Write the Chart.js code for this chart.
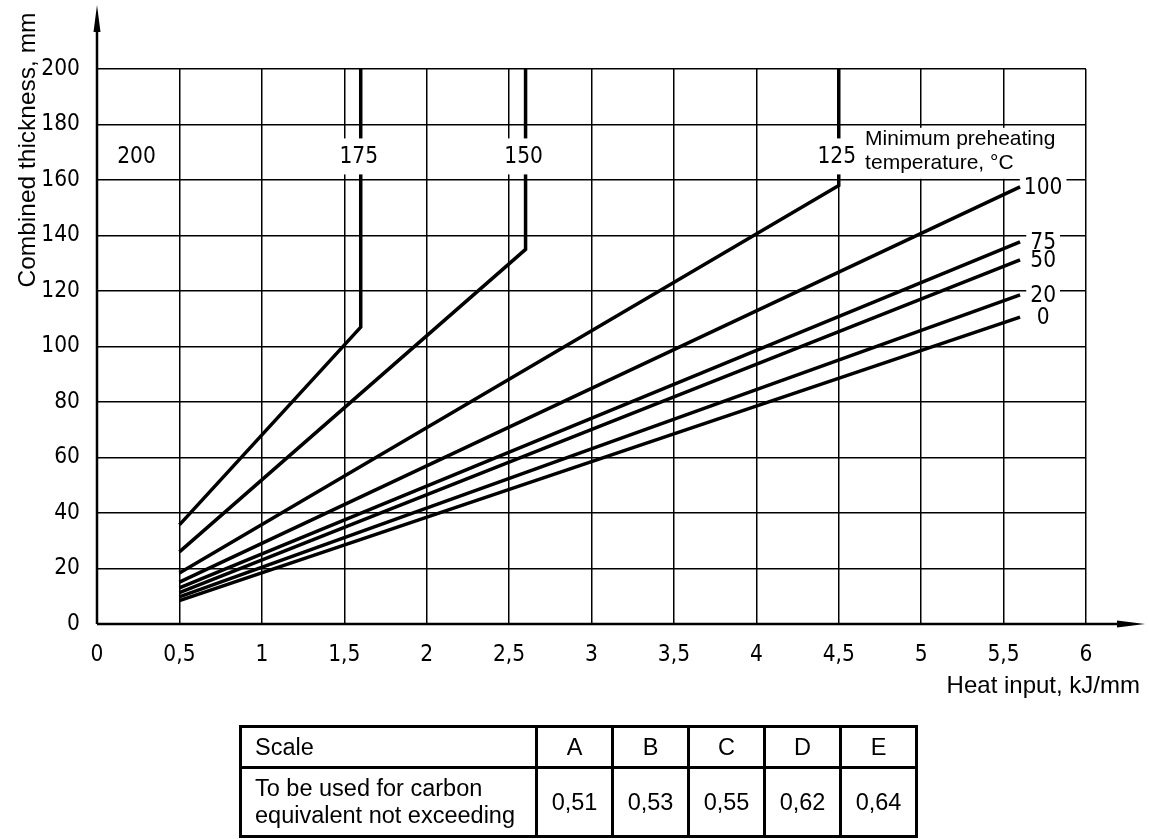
<!DOCTYPE html>
<html>
<head>
<meta charset="utf-8">
<script src="https://cdn.jsdelivr.net/npm/chart.js@4.4.0/dist/chart.umd.min.js"></script>
<style>
  html, body { margin: 0; padding: 0; background: #fff; }
  #wrap { position: relative; width: 1149px; height: 839px; overflow: hidden; }
  #chart { position: absolute; left: 0; top: 0; }
  #scaleTable {
    position: absolute; left: 239px; top: 725px;
    border-collapse: collapse; table-layout: fixed;
    font-family: "Liberation Sans", Arial, sans-serif; font-size: 23.5px; color: #000;
  }
  #scaleTable td { border: 3px solid #000; padding: 0; text-align: center; }
  #scaleTable td.first { text-align: left; padding-left: 13px; line-height: 27px; }
  #scaleTable tr.head td { height: 38px; }
  #scaleTable tr.body td { height: 66px; }
</style>
</head>
<body>
<div id="wrap">
  <canvas id="chart" width="1149" height="839"></canvas>
  <table id="scaleTable"></table>
</div>
<script>
// thickness curves, [heat input kJ/mm, combined thickness mm]
const curve0   = [[0.5, 8.4],  [5.6, 110.6]];
const curve20  = [[0.5, 9.8],  [5.6, 118.6]];
const curve50  = [[0.5, 11.3], [5.6, 131.2]];
const curve75  = [[0.5, 13.0], [5.6, 137.7]];
const curve100 = [[0.5, 15.1], [5.6, 157.5]];
const curve125 = [[0.5, 18.4], [4.5, 158.0], [4.5, 200]];
const curve150 = [[0.5, 26.0], [2.6, 135.0], [2.6, 200]];
const curve175 = [[0.5, 35.7], [1.6, 107.0], [1.6, 200]];

const tempNames = ['0', '20', '50', '75', '100', '125', '150', '175'];
const curves = [curve0, curve20, curve50, curve75, curve100, curve125, curve150, curve175];

// table under the chart
const scaleNames = ['A', 'B', 'C', 'D', 'E'];
const ceLimits = ['0,51', '0,53', '0,55', '0,62', '0,64'];

const tickFamily = '"DejaVu Sans Condensed", "Liberation Sans Narrow", "DejaVu Sans", sans-serif';
const tickSize = 22.5;
const textFamily = '"Liberation Sans", Arial, sans-serif';

// build the table
(function buildTable() {
  const t = document.getElementById('scaleTable');
  let html = '<colgroup><col style="width:296px">';
  scaleNames.forEach(() => html += '<col style="width:76px">');
  html += '</colgroup><tr class="head"><td class="first">Scale</td>';
  scaleNames.forEach(s => html += '<td>' + s + '</td>');
  html += '</tr><tr class="body"><td class="first">To be used for carbon<br>equivalent not exceeding</td>';
  ceLimits.forEach(v => html += '<td>' + v + '</td>');
  html += '</tr>';
  t.innerHTML = html;
})();

const endLabelX = 5.74;   // where the 0..100 names sit
const topLabelY = 168.5;  // row of the 125..200 names
const fmt = v => String(v).replace('.', ',');

function labelSpots(x, y) {
  const spots = [];
  // names at the right end of the sloped curves
  for (let i = 0; i < 5; i++) {
    const last = curves[i][curves[i].length - 1];
    spots.push({ text: tempNames[i], px: x.getPixelForValue(endLabelX), py: y.getPixelForValue(last[1]), padX: 4, h: 16 });
  }
  // names on the vertical parts
  for (let i = 5; i < 8; i++) {
    const last = curves[i][curves[i].length - 1];
    spots.push({ text: tempNames[i], px: x.getPixelForValue(last[0]) - 2, py: y.getPixelForValue(topLabelY), padX: 3, h: 36, cover: true });
  }
  spots.push({ text: '200', px: x.getPixelForValue(0.24), py: y.getPixelForValue(topLabelY), padX: 0, h: 0 });
  return spots;
}

const annotate = {
  id: 'annotate',
  beforeDatasetsDraw(chart) {
    const { ctx, scales: { x, y } } = chart;
    ctx.save();
    ctx.fillStyle = '#fff';
    ctx.font = tickSize + 'px ' + tickFamily;
    labelSpots(x, y).filter(s => !s.cover && s.h).forEach(s => {
      const w = ctx.measureText(s.text).width;
      ctx.fillRect(s.px - w / 2 - s.padX, s.py - s.h / 2, w + 2 * s.padX, s.h);
    });
    // box behind the note
    const nx = x.getPixelForValue(4.66);
    ctx.fillRect(nx - 14, y.getPixelForValue(178.8), 225, 51);
    ctx.restore();
  },
  afterDatasetsDraw(chart) {
    const { ctx, scales: { x, y }, chartArea: a } = chart;
    ctx.save();
    // axes with arrows
    ctx.strokeStyle = '#000';
    ctx.fillStyle = '#000';
    ctx.lineWidth = 2.5;
    ctx.beginPath();
    ctx.moveTo(a.left, a.bottom);
    ctx.lineTo(a.left, 22);
    ctx.moveTo(a.left, a.bottom);
    ctx.lineTo(1125, a.bottom);
    ctx.stroke();
    ctx.beginPath();
    ctx.moveTo(a.left, 5); ctx.lineTo(a.left - 3.5, 32); ctx.lineTo(a.left + 3.5, 32); ctx.closePath();
    ctx.moveTo(1145, a.bottom); ctx.lineTo(1117, a.bottom - 3.5); ctx.lineTo(1117, a.bottom + 3.5); ctx.closePath();
    ctx.fill();

    // temperature names
    ctx.font = tickSize + 'px ' + tickFamily;
    ctx.textAlign = 'center';
    ctx.textBaseline = 'middle';
    labelSpots(x, y).forEach(s => {
      if (s.cover) {
        const w = ctx.measureText(s.text).width;
        ctx.fillStyle = '#fff';
        ctx.fillRect(s.px - w / 2 - s.padX, s.py - s.h / 2, w + 2 * s.padX, s.h);
      }
      ctx.fillStyle = '#000';
      ctx.fillText(s.text, s.px, s.py + 1);
    });

    // note
    ctx.font = '21px ' + textFamily;
    ctx.textAlign = 'left';
    ctx.textBaseline = 'alphabetic';
    const nx = x.getPixelForValue(4.66);
    ctx.fillText('Minimum preheating', nx, y.getPixelForValue(172.6));
    ctx.fillText('temperature, \u00B0C', nx, y.getPixelForValue(164.0));

    // axis titles
    ctx.font = '24px ' + textFamily;
    ctx.textAlign = 'right';
    ctx.fillText('Heat input, kJ/mm', 1140, 693);
    ctx.translate(35, 150);
    ctx.rotate(-Math.PI / 2);
    ctx.textAlign = 'center';
    ctx.font = '24.5px ' + textFamily;
    ctx.fillText('Combined thickness, mm', 0, 0);
    ctx.restore();
  }
};

new Chart(document.getElementById('chart'), {
  type: 'line',
  data: {
    datasets: curves.map((c, i) => ({
      label: tempNames[i],
      data: c.map(p => ({ x: p[0], y: p[1] })),
      borderColor: '#000',
      borderWidth: 3.5,
      borderJoinStyle: 'miter',
      pointRadius: 0,
      fill: false,
      tension: 0
    }))
  },
  options: {
    responsive: false,
    animation: false,
    devicePixelRatio: 1,
    layout: { padding: { left: 37, right: 63, top: 69, bottom: 155 } },
    plugins: { legend: { display: false }, tooltip: { enabled: false } },
    scales: {
      x: {
        type: 'linear', min: 0, max: 6,
        afterFit: s => { s.height = 60; },
        border: { display: false },
        grid: { color: '#000', lineWidth: 1.5, drawTicks: false },
        ticks: { stepSize: 0.5, padding: 18, color: '#000', font: { family: tickFamily, size: tickSize }, callback: v => fmt(v), maxRotation: 0 }
      },
      y: {
        type: 'linear', min: 0, max: 200,
        afterFit: s => { s.width = 60; },
        border: { display: false },
        grid: { color: '#000', lineWidth: 1.5, drawTicks: false },
        ticks: { stepSize: 20, padding: 17, color: '#000', font: { family: tickFamily, size: tickSize } }
      }
    }
  },
  plugins: [annotate]
});
</script>
</body>
</html>
